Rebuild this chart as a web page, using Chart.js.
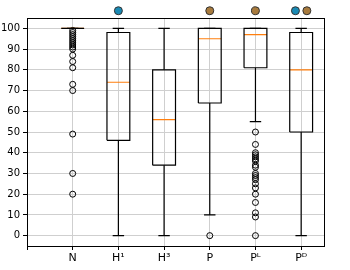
<!DOCTYPE html>
<html>
<head>
<meta charset="utf-8">
<script src="https://cdn.jsdelivr.net/npm/chart.js@4"></script>
<style>
  body { margin: 0; background: #fff; }
  #wrap { width: 350px; height: 270px; }
</style>
</head>
<body>
<div id="wrap"><canvas id="box-chart" width="350" height="270"></canvas></div>
<script>
// ------------------------------------------------------------
// DATA
// ------------------------------------------------------------
const categories = ["N", "H\u00B9", "H\u00B3", "P", "P\u1D38", "P\u1D30"];
const whiskerLow = [100, 0, 0, 10, 55, 0];
const quartile1 = [100, 46, 34, 64, 81, 50];
const medians = [100, 74, 56, 95, 97, 80];
const quartile3 = [100, 98, 80, 100, 100, 98];
const whiskerHigh = [100, 100, 100, 100, 100, 100];
const outliersN = [99, 98, 97, 96, 95, 94, 93, 92, 91, 90, 87, 84, 81, 73, 70, 49, 30, 20];
const outliersP = [0];
const outliersPL = [50, 44, 40, 39, 38, 37, 36, 34, 33, 30, 29, 28, 27, 25, 23, 20, 16, 11, 9, 0];
const outliers = [outliersN, [], [], outliersP, outliersPL, []];
const blueFlags = [false, true, false, false, false, true];
const brownFlags = [false, false, false, true, true, true];
const yTicks = [0, 10, 20, 30, 40, 50, 60, 70, 80, 90, 100];
const flagLevel = 108.5;

// box geometry in data units (matplotlib defaults)
const BOX_W = 0.5;
const CAP_W = 0.25;
const FLAG_SHIFT = 0.125;

// ------------------------------------------------------------
// BUILD POINT LISTS
// ------------------------------------------------------------
const gap = (x) => ({ x: x, y: null });

const boxPts = [];
const whiskerPts = [];
const medianPts = [];
const outlierPts = [];
const bluePts = [];
const brownPts = [];

categories.forEach((c, i) => {
    const x = i + 1;
    const l = x - BOX_W / 2, r = x + BOX_W / 2;
    boxPts.push({ x: l, y: quartile1[i] }, { x: r, y: quartile1[i] },
                { x: r, y: quartile3[i] }, { x: l, y: quartile3[i] },
                { x: l, y: quartile1[i] }, gap(x));

    whiskerPts.push({ x: x, y: quartile1[i] }, { x: x, y: whiskerLow[i] }, gap(x),
                    { x: x - CAP_W / 2, y: whiskerLow[i] }, { x: x + CAP_W / 2, y: whiskerLow[i] }, gap(x),
                    { x: x, y: quartile3[i] }, { x: x, y: whiskerHigh[i] }, gap(x),
                    { x: x - CAP_W / 2, y: whiskerHigh[i] }, { x: x + CAP_W / 2, y: whiskerHigh[i] }, gap(x));

    medianPts.push({ x: l, y: medians[i] }, { x: r, y: medians[i] }, gap(x));

    outliers[i].forEach(v => outlierPts.push({ x: x, y: v }));

    const both = blueFlags[i] && brownFlags[i];
    if (blueFlags[i]) bluePts.push({ x: both ? x - FLAG_SHIFT : x, y: flagLevel });
    if (brownFlags[i]) brownPts.push({ x: both ? x + FLAG_SHIFT : x, y: flagLevel });
});

// ------------------------------------------------------------
// PLUGINS
// ------------------------------------------------------------
// top/right spines like matplotlib
const framePlugin = {
    id: "frame",
    beforeDatasetsDraw(chart) {
        const a = chart.chartArea;
        const ctx = chart.ctx;
        ctx.save();
        ctx.strokeStyle = "#000";
        ctx.lineWidth = 1;
        ctx.strokeRect(Math.round(a.left) + 0.5, Math.round(a.top) + 0.5,
                       Math.round(a.right - a.left), Math.round(a.bottom - a.top));
        ctx.restore();
    }
};

// points above the plot area are skipped by Chart.js, so draw the flag
// datasets again with the whole canvas as the allowed area
const flagPlugin = {
    id: "flags",
    afterDatasetsDraw(chart) {
        const whole = { left: 0, top: 0, right: chart.width, bottom: chart.height };
        chart.data.datasets.forEach((ds, i) => {
            if (!ds.isFlag) return;
            chart.getDatasetMeta(i).data.forEach(pt => pt.draw(chart.ctx, whole));
        });
    }
};

// ------------------------------------------------------------
// INIT CHART
// ------------------------------------------------------------
Chart.defaults.font.family = "'DejaVu Sans', sans-serif";
Chart.defaults.font.size = 10;
Chart.defaults.color = "#000";

const lineSet = (data, color, width) => ({
    type: "line",
    data: data,
    borderColor: color,
    borderWidth: width,
    pointRadius: 0,
    spanGaps: false,
    fill: false,
    tension: 0
});

const flagSet = (data, color) => ({
    data: data,
    isFlag: true,
    clip: false,
    pointRadius: 4,
    pointBorderWidth: 1,
    pointBorderColor: "#333",
    pointBackgroundColor: color
});

new Chart(document.getElementById("box-chart").getContext("2d"), {
    type: "scatter",
    data: {
        datasets: [
            lineSet(boxPts, "#000", 1.2),
            lineSet(whiskerPts, "#000", 1.2),
            lineSet(medianPts, "#ff7f0e", 1.2),
            {
                data: outlierPts,
                pointRadius: 3,
                pointBorderWidth: 1,
                pointBorderColor: "#000",
                pointBackgroundColor: "rgba(0,0,0,0)"
            },
            flagSet(bluePts, "#1a8ab4"),
            flagSet(brownPts, "#a87b3e")
        ]
    },
    options: {
        responsive: false,
        animation: false,
        layout: { padding: { top: 18, right: 26, left: 0, bottom: 0 } },
        plugins: {
            legend: { display: false },
            tooltip: { enabled: false }
        },
        scales: {
            x: {
                type: "linear",
                min: 0,
                max: 6.5,
                afterBuildTicks: s => { s.ticks = [0, 1, 2, 3, 4, 5, 6].map(v => ({ value: v })); },
                afterFit: s => { s.height = 24; },
                ticks: {
                    padding: 2,
                    maxRotation: 0,
                    autoSkip: false,
                    font: { size: 11 },
                    callback: v => (v >= 1 ? categories[v - 1] : "")
                },
                grid: { color: "#cfcfcf", lineWidth: 1, tickLength: 4, tickColor: "#000" },
                border: { display: false }
            },
            y: {
                min: -5,
                max: 105,
                afterBuildTicks: s => { s.ticks = yTicks.map(v => ({ value: v })); },
                afterFit: s => { s.width = 27; },
                ticks: { padding: 3 },
                grid: { color: "#cfcfcf", lineWidth: 1, tickLength: 4, tickColor: "#000" },
                border: { display: false }
            }
        }
    },
    plugins: [framePlugin, flagPlugin]
});
</script>
</body>
</html>
